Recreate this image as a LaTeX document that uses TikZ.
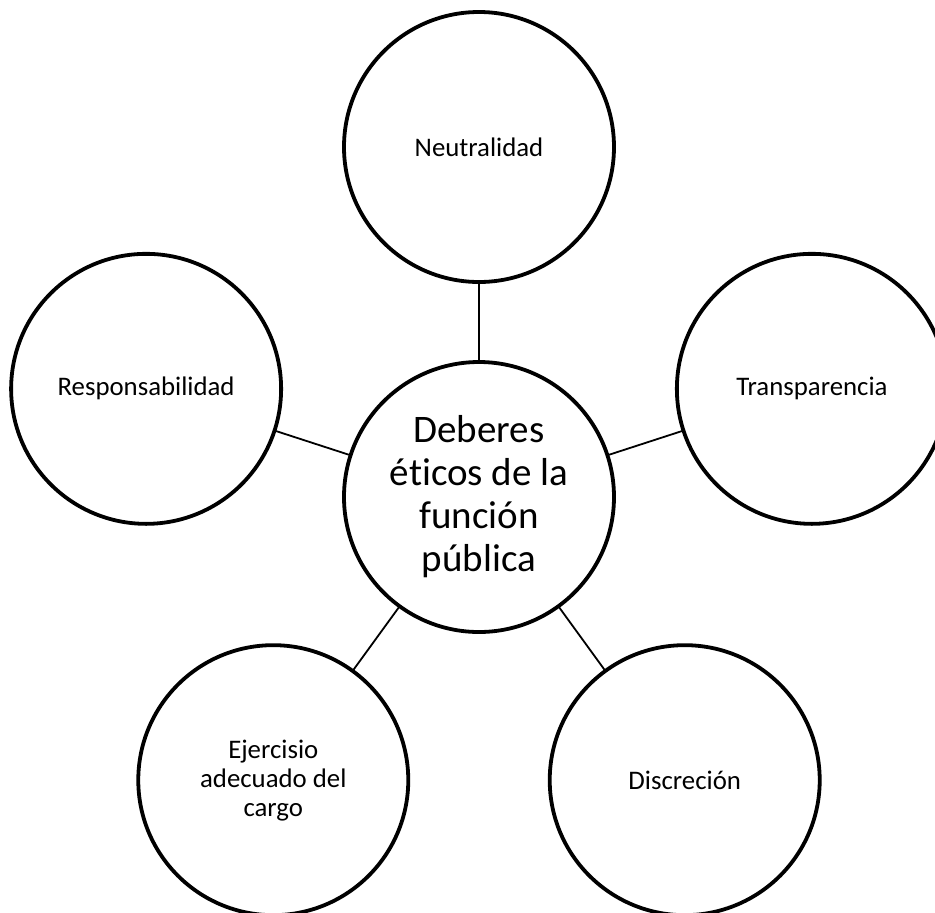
\documentclass[tikz,border=0pt]{standalone}
\usepackage{fontspec}
\setmainfont{Carlito}[RawFeature={-liga;-clig;-calt;-dlig}]
\usetikzlibrary{positioning}
\tikzset{
    duty/.style={circle, draw=black, line width=1.9pt, minimum size=135pt, inner sep=0pt,
                 outer sep=0pt, align=center, font=\fontsize{13.4}{14.5}\selectfont},
    core/.style={duty, font=\fontsize{19.5}{21.5}\selectfont},
    link/.style={draw=black, line width=0.9pt},
}
\begin{document}
\begin{tikzpicture}
    \useasboundingbox (-239.5pt,-207.5pt) rectangle (228pt,248.5pt);
    \node[core] (deb) at (0,0) {Deberes\\ét\kern0pt icos de la\\función\\pública};
    \node[duty] (neu) at (90:175pt) {Neutralidad};
    \node[duty] (resp) at (162:175pt) {Responsabilidad};
    \node[duty] (ejer) at (234:175pt) {Ejercisio\\adecuado del\\cargo};
    \node[duty] (disc) at (306:175pt) {Discreción};
    \node[duty] (trans) at (18:175pt) {Transparencia};
    \draw[link] (deb) -- (neu);
    \draw[link] (deb) -- (resp);
    \draw[link] (deb) -- (ejer);
    \draw[link] (deb) -- (disc);
    \draw[link] (deb) -- (trans);
\end{tikzpicture}
\end{document}
